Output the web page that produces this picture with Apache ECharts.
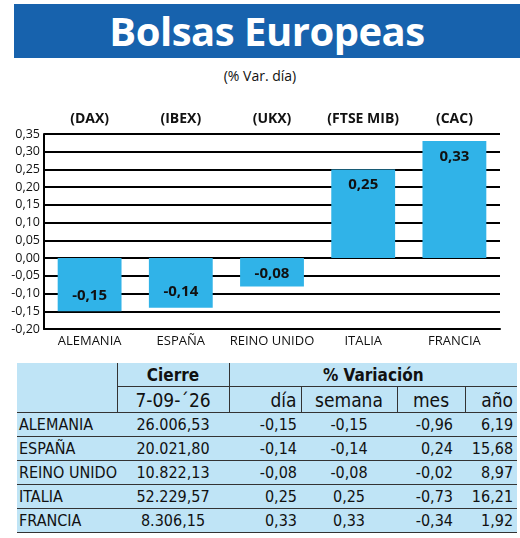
<!DOCTYPE html>
<html><head><meta charset="utf-8">
<script src="https://cdn.jsdelivr.net/npm/echarts@6/dist/echarts.min.js"></script>
<style>
body{margin:0;width:520px;height:538px;background:#fff;font-family:"Open Sans",sans-serif;position:relative;overflow:hidden}
#title{position:absolute;left:14px;top:4px;width:506px;height:54px;background:#1762ad;color:#fff;font:bold 40px "Open Sans",sans-serif;text-align:center;line-height:54px;letter-spacing:-0.5px}
#sub{position:absolute;left:0;top:66px;width:520px;text-align:center;font-size:14px;color:#111}
#chart{position:absolute;left:0;top:100px;width:520px;height:255px}
#tbl{position:absolute;left:17px;top:363px;width:500px;border-collapse:collapse;background:#bfe4f6;font-size:16px;color:#111;font-family:"Liberation Sans Narrow","DejaVu Sans Condensed",sans-serif;table-layout:fixed}
#tbl td{padding:0 4px;height:23px;line-height:20px;white-space:nowrap;overflow:hidden}
#tbl tr.d td{border-bottom:1.5px solid #333}
</style></head><body>
<div id="title">Bolsas Europeas</div>
<div id="sub">(% Var. día)</div>
<div id="chart"></div>
<table id="tbl"><colgroup><col style="width:100px"><col style="width:112px"><col style="width:72px"><col style="width:96px"><col style="width:68px"><col style="width:52px"></colgroup></table>
<script>
const countries=["ALEMANIA","ESPAÑA","REINO UNIDO","ITALIA","FRANCIA"];
const indices=["(DAX)","(IBEX)","(UKX)","(FTSE MIB)","(CAC)"];
const dia=[-0.15,-0.14,-0.08,0.25,0.33];
const cierre=["26.006,53","20.021,80","10.822,13","52.229,57","8.306,15"];
const semana=["-0,15","-0,14","-0,08","0,25","0,33"];
const mes=["-0,96","0,24","-0,02","-0,73","-0,34"];
const anio=["6,19","15,68","8,97","16,21","1,92"];
const fmt=v=>v.toFixed(2).replace('.',',');
const c=echarts.init(document.getElementById('chart'));
c.setOption({
 animation:false,
 grid:{left:44,right:20,top:34,bottom:26},
 xAxis:[{type:'category',data:countries,position:'bottom',axisLine:{onZero:false,lineStyle:{color:'#000',width:2}},axisTick:{show:false},
   axisLabel:{interval:0,color:'#111',fontSize:13,fontFamily:'Open Sans',margin:6}},
  {type:'category',data:indices,position:'top',axisLine:{show:false},axisTick:{show:false},
   axisLabel:{interval:0,color:'#111',fontSize:14,fontWeight:'bold',fontFamily:'Open Sans',margin:8}}],
 yAxis:{type:'value',min:-0.2,max:0.35,interval:0.05,axisLine:{show:true,lineStyle:{color:'#000',width:2}},axisTick:{show:false},
  splitLine:{lineStyle:{color:'#000',width:2}},axisLabel:{formatter:v=>fmt(v),color:'#111',fontSize:12.5,margin:4,fontFamily:'Open Sans'}},
 series:[{type:'bar',barWidth:'70%',data:dia.map(v=>({value:v,label:{position:v<0?'insideBottom':'insideTop',distance:v<-0.1?8:(v<0?5:8)}})),
  itemStyle:{color:'#30b3e8'},
  label:{show:true,formatter:p=>fmt(p.value),color:'#111',fontWeight:'bold',fontSize:15,fontFamily:'Open Sans'}}]
});
const t=document.getElementById('tbl');
const B='1.5px solid #333';
let h=`<tr style="font-weight:bold;font-size:17px"><td style="border-right:${B}"></td><td style="text-align:center;border-right:${B};border-bottom:${B}">Cierre</td><td colspan="4" style="text-align:center;border-bottom:${B}">% Variación</td></tr>`;
h+=`<tr style="font-size:19px;height:26px"><td style="border-right:${B};border-bottom:${B}"></td><td style="text-align:center;border-right:${B};border-bottom:${B}">7-09-´26</td><td style="text-align:right;border-right:${B};border-bottom:${B}">día</td><td style="text-align:center;border-right:${B};border-bottom:${B}">semana</td><td style="text-align:center;border-right:${B};border-bottom:${B}">mes</td><td style="text-align:right;border-bottom:${B}">año</td></tr>`;
countries.forEach((k,i)=>{h+=`<tr class="d"><td style="padding-left:2px">${k}</td><td style="text-align:center">${cierre[i]}</td><td style="text-align:right">${fmt(dia[i])}</td><td style="text-align:center">${semana[i]}</td><td style="text-align:right;padding-right:12px">${mes[i]}</td><td style="text-align:right">${anio[i]}</td></tr>`});
t.innerHTML+=h;
</script></body></html>
